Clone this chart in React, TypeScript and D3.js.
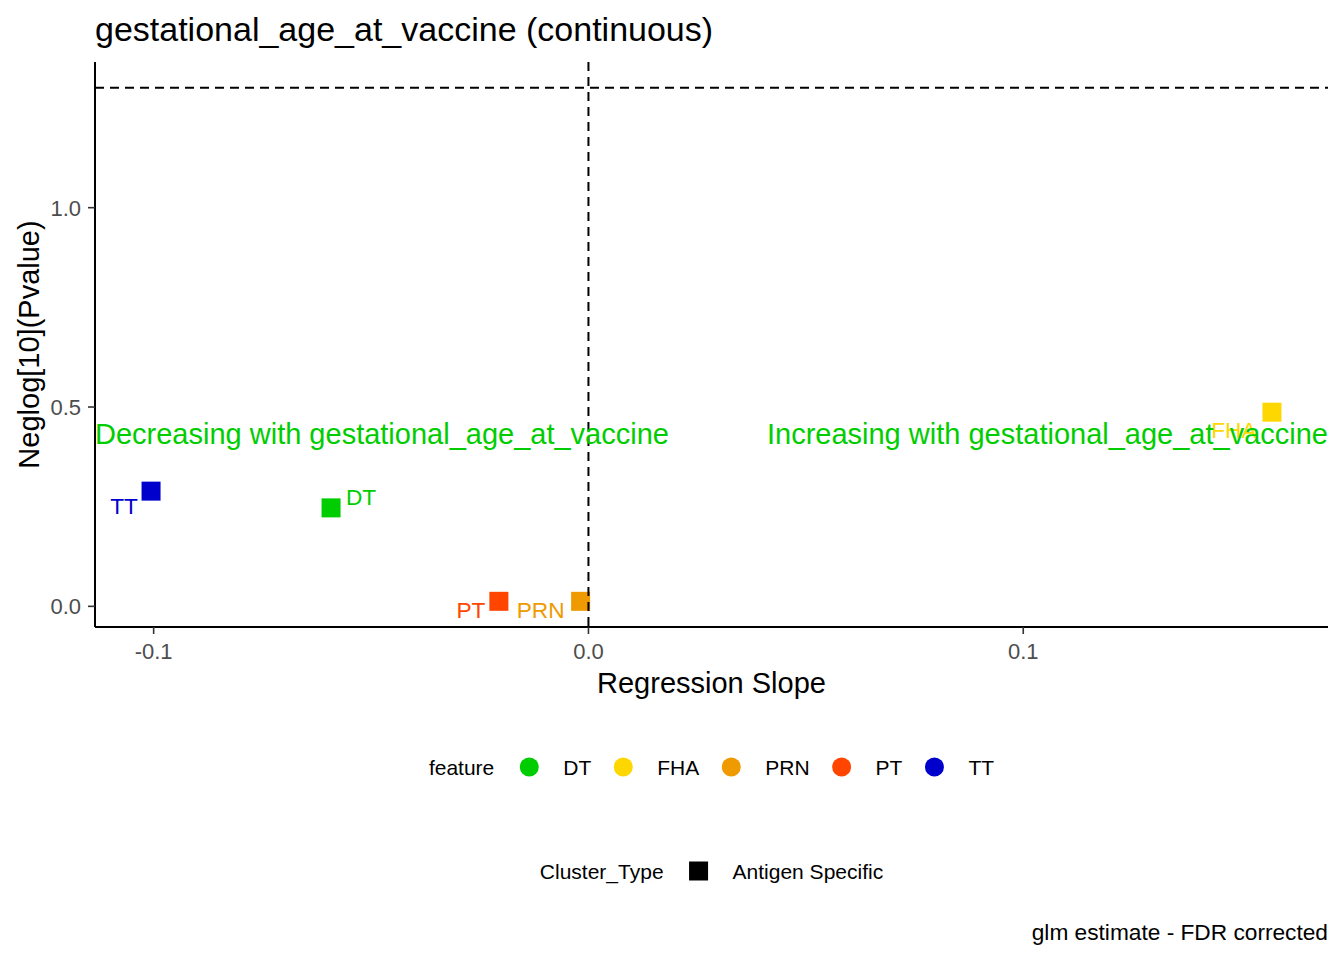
import * as d3 from "d3";

const width = 1344;
const height = 960;
const FONT = '"Liberation Sans", Arial, sans-serif';

// values
const features = ["DT", "FHA", "PRN", "PT", "TT"];
const featureColours = ["#00CD00", "#FFD700", "#EE9A00", "#FF4500", "#0000CD"];
const slopes = [-0.0592, 0.1572, -0.0018, -0.0206, -0.1006];
const neglogP = [0.247, 0.487, 0.0126, 0.0126, 0.289];
const xTicks = [-0.1, 0.0, 0.1];
const yTicks = [0.0, 0.5, 1.0];
const pCutoff = 0.05;
const annotationY = 0.434;
const clusterTypes = ["Antigen Specific"];

// where ggrepel put each label, relative to its point (px)
const labelNudge = [
  { dx: 30, dy: -3 },
  { dx: -38, dy: 26 },
  { dx: -40, dy: 17 },
  { dx: -28, dy: 17 },
  { dx: -27, dy: 23 },
];

const margin = { left: 95, right: 1328, top: 62, bottom: 627 };

let ctx: CanvasRenderingContext2D | null = null;
function textWidth(txt: string, size: number) {
  if (!ctx) ctx = document.createElement("canvas").getContext("2d");
  if (!ctx) return txt.length * size * 0.55;
  ctx.font = `${size}px "Liberation Sans"`;
  return ctx.measureText(txt).width;
}

function expand([a, b]: [number, number]): [number, number] {
  const pad = (b - a) * 0.05;
  return [a - pad, b + pad];
}

export default function App() {
  const hline = -Math.log10(pCutoff);
  const x = d3
    .scaleLinear()
    .domain(expand(d3.extent(slopes) as [number, number]))
    .range([margin.left, margin.right]);
  const y = d3
    .scaleLinear()
    .domain(expand(d3.extent([...neglogP, hline]) as [number, number]))
    .range([margin.bottom, margin.top]);

  const points = features.map((f, i) => ({
    feature: f,
    colour: featureColours[i],
    cx: x(slopes[i]),
    cy: y(neglogP[i]),
    nudge: labelNudge[i],
  }));

  const sq = 19;
  const midX = (margin.left + margin.right) / 2;
  const legSize = 21;

  // legend row layout, like ggplot's horizontal legend
  const layoutRow = (title: string, labels: string[]) => {
    const titleW = textWidth(title, legSize);
    let cur = titleW + 26;
    const items = labels.map((lab) => {
      const keyX = cur + 9;
      const labX = cur + 18 + 25;
      cur = labX + textWidth(lab, legSize) + 23;
      return { lab, keyX, labX };
    });
    const total = cur - 23;
    const start = midX - total / 2;
    return { start, items };
  };

  const row1 = layoutRow("feature", features);
  const row2 = layoutRow("Cluster_Type", clusterTypes);

  return (
    <svg
      width={width}
      height={height}
      style={{ position: "absolute", left: 0, top: 0, background: "#fff" }}
      fontFamily={FONT}
    >
      <rect width={width} height={height} fill="#fff" />
      {/* title */}
      <text x={margin.left} y={41} fontSize={34} fill="#000">
        gestational_age_at_vaccine (continuous)
      </text>

      {/* points */}
      {points.map((p) => (
        <rect
          key={p.feature}
          x={p.cx - sq / 2}
          y={p.cy - sq / 2}
          width={sq}
          height={sq}
          fill={p.colour}
        />
      ))}

      {/* reference lines */}
      <line
        x1={margin.left}
        x2={margin.right}
        y1={y(hline)}
        y2={y(hline)}
        stroke="#000"
        strokeWidth={2}
        strokeDasharray="9,6"
      />
      <line
        x1={x(0)}
        x2={x(0)}
        y1={margin.top}
        y2={margin.bottom}
        stroke="#000"
        strokeWidth={2}
        strokeDasharray="9,6"
      />

      {/* repelled labels */}
      {points.map((p) => (
        <text
          key={`lab-${p.feature}`}
          x={p.cx + p.nudge.dx}
          y={p.cy + p.nudge.dy}
          fontSize={22.7}
          fill={p.colour}
          textAnchor="middle"
        >
          {p.feature}
        </text>
      ))}

      {/* direction annotations */}
      <text
        x={margin.left}
        y={y(annotationY)}
        dy="0.36em"
        fontSize={29}
        fill="#00CD00"
      >
        Decreasing with gestational_age_at_vaccine
      </text>
      <text
        x={margin.right}
        y={y(annotationY)}
        dy="0.36em"
        fontSize={29}
        fill="#00CD00"
        textAnchor="end"
      >
        Increasing with gestational_age_at_vaccine
      </text>

      {/* axes */}
      <line
        x1={margin.left}
        x2={margin.left}
        y1={margin.top}
        y2={margin.bottom}
        stroke="#000"
        strokeWidth={2}
      />
      <line
        x1={margin.left}
        x2={margin.right}
        y1={margin.bottom}
        y2={margin.bottom}
        stroke="#000"
        strokeWidth={2}
      />
      {xTicks.map((t) => (
        <g key={`xt${t}`}>
          <line
            x1={x(t)}
            x2={x(t)}
            y1={margin.bottom}
            y2={margin.bottom + 7}
            stroke="#333"
            strokeWidth={1.6}
          />
          <text
            x={x(t)}
            y={659}
            fontSize={22}
            fill="#4D4D4D"
            textAnchor="middle"
          >
            {t.toFixed(1)}
          </text>
        </g>
      ))}
      {yTicks.map((t) => (
        <g key={`yt${t}`}>
          <line
            x1={margin.left - 7}
            x2={margin.left}
            y1={y(t)}
            y2={y(t)}
            stroke="#333"
            strokeWidth={1.6}
          />
          <text
            x={81}
            y={y(t)}
            dy="0.36em"
            fontSize={22}
            fill="#4D4D4D"
            textAnchor="end"
          >
            {t.toFixed(1)}
          </text>
        </g>
      ))}

      {/* axis titles */}
      <text x={midX} y={693} fontSize={29} textAnchor="middle" fill="#000">
        Regression Slope
      </text>
      <text
        transform={`translate(39,${(margin.top + margin.bottom) / 2}) rotate(-90)`}
        fontSize={29}
        textAnchor="middle"
        fill="#000"
      >
        Neglog[10](Pvalue)
      </text>

      {/* legend: feature */}
      <g transform={`translate(${row1.start},767)`}>
        <text x={0} y={0} dy="0.36em" fontSize={legSize} fill="#000">
          feature
        </text>
        {row1.items.map((it, i) => (
          <g key={it.lab}>
            <circle cx={it.keyX} cy={0} r={9.5} fill={featureColours[i]} />
            <text x={it.labX} y={0} dy="0.36em" fontSize={legSize} fill="#000">
              {it.lab}
            </text>
          </g>
        ))}
      </g>

      {/* legend: Cluster_Type */}
      <g transform={`translate(${row2.start},871)`}>
        <text x={0} y={0} dy="0.36em" fontSize={legSize} fill="#000">
          Cluster_Type
        </text>
        {row2.items.map((it) => (
          <g key={it.lab}>
            <rect x={it.keyX - 9.5} y={-9.5} width={19} height={19} fill="#000" />
            <text x={it.labX} y={0} dy="0.36em" fontSize={legSize} fill="#000">
              {it.lab}
            </text>
          </g>
        ))}
      </g>

      {/* caption */}
      <text x={margin.right} y={940} fontSize={22.7} textAnchor="end" fill="#000">
        glm estimate - FDR corrected
      </text>
    </svg>
  );
}
